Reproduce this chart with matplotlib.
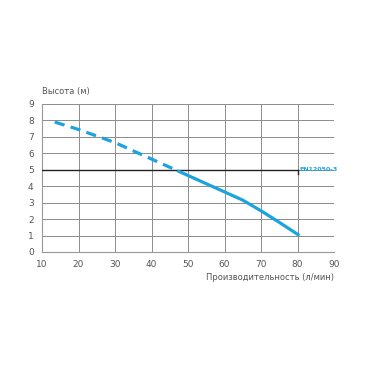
import matplotlib.pyplot as plt

# pump curve
flow_dashed = [13.5, 20, 30, 40, 47]
head_dashed = [7.9, 7.45, 6.65, 5.65, 4.95]
flow_solid = [47, 50, 60, 65, 70, 75, 80.5]
head_solid = [4.95, 4.65, 3.65, 3.15, 2.5, 1.8, 1.0]

ref_head = 5
ref_flow = [10, 80]
ref_label = "EN12050-3"

x_ticks = [10, 20, 30, 40, 50, 60, 70, 80, 90]
y_ticks = [0, 1, 2, 3, 4, 5, 6, 7, 8, 9]

blue = "#1aa3df"
txt = "#555555"

fig = plt.figure(figsize=(3.7, 3.7), dpi=100)
ax = fig.add_axes([0.1135, 0.319, 0.7895, 0.4])

ax.set_xlim(10, 90)
ax.set_ylim(0, 9)
ax.set_xticks(x_ticks)
ax.set_yticks(y_ticks)
ax.grid(True, color="#8c8c8c", linewidth=0.7)
ax.tick_params(length=0, labelsize=6.5, colors=txt, pad=6)
for s in ("top", "right"):
    ax.spines[s].set_visible(False)
for s in ("left", "bottom"):
    ax.spines[s].set_color("#999999")
    ax.spines[s].set_linewidth(0.8)

ax.plot(ref_flow, [ref_head, ref_head], color="#222222", linewidth=1.0, zorder=3)
ax.plot([ref_flow[1], ref_flow[1]], [ref_head, ref_head - 0.25], color="#222222",
        linewidth=1.0, zorder=3)
ax.text(ref_flow[1] + 0.6, ref_head, ref_label, color=blue, fontsize=4.5,
        fontweight="bold", va="center", ha="left", zorder=4)

ax.plot(flow_dashed, head_dashed, color=blue, linewidth=2.3, linestyle=(0, (3.2, 2)),
        zorder=5, solid_capstyle="butt")
ax.plot(flow_solid, head_solid, color=blue, linewidth=2.3, zorder=5,
        solid_capstyle="butt")

fig.text(0.1135, 0.754, "Высота (м)", fontsize=6, color=txt, ha="left", va="center")
fig.text(0.903, 0.251, "Производительность (л/мин)", fontsize=6, color=txt,
         ha="right", va="center")

fig.savefig("out.png", dpi=100)
